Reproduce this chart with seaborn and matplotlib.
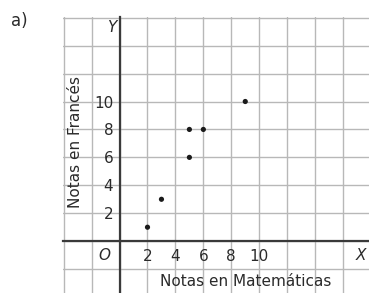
import numpy as np
import seaborn as sns
import matplotlib.pyplot as plt

# Notas de los alumnos
mates = [2, 3, 5, 5, 6, 9]
frances = [1, 3, 6, 8, 8, 10]
xticks = [2, 4, 6, 8, 10]
yticks = [2, 4, 6, 8, 10]

sns.set_style("white")
plt.rcParams['font.family'] = ['DejaVu Sans']

fig = plt.figure(figsize=(3.69, 2.93), dpi=100)
ax = fig.add_axes([63 / 369, 0, 1 - 63 / 369, 1 - 17 / 293])

txt = '#2a2a2a'
axc = '#3a3a3a'
gridc = '#b8b8b8'

ax.set_xlim(-4.05, 17.86)
ax.set_ylim(-3.71, 16.05)

# cuadricula (cada 2 unidades)
for gx in np.arange(-4, 18, 2):
    ax.axvline(gx, color=gridc, linewidth=1.0, zorder=0)
for gy in np.arange(-4, 17, 2):
    ax.axhline(gy, color=gridc, linewidth=1.0, zorder=0)

sns.scatterplot(x=mates, y=frances, ax=ax, color='#1a1a1a', s=14,
                edgecolor='none', zorder=5)

# ejes por el origen
for side in ['top', 'right']:
    ax.spines[side].set_visible(False)
ax.spines['left'].set_position(('data', 0))
ax.spines['bottom'].set_position(('data', 0))
for side in ['left', 'bottom']:
    ax.spines[side].set_color(axc)
    ax.spines[side].set_linewidth(1.6)
    ax.spines[side].set_zorder(3)

ax.set_xticks(xticks)
ax.set_yticks(yticks)
ax.set_xticklabels([str(t) for t in xticks])
ax.set_yticklabels([str(t) for t in yticks])
ax.tick_params(which='major', direction='inout', length=9, width=1.2,
               color=axc, labelcolor=txt, labelsize=11)
ax.tick_params(axis='x', pad=1)
ax.tick_params(axis='y', pad=0)

ax.set_xlabel('')
ax.set_ylabel('')

ax.text(-1.07, -1.0, 'O', style='italic', fontsize=11, color=txt,
        ha='center', va='center')
ax.text(-0.55, 15.3, 'Y', style='italic', fontsize=11, color=txt,
        ha='center', va='center')
ax.text(17.3, -1.0, 'X', style='italic', fontsize=11, color=txt,
        ha='center', va='center')
ax.text(9.0, -2.86, 'Notas en Matemáticas', fontsize=11, color=txt,
        ha='center', va='center')
ax.text(-3.14, 7.07, 'Notas en Francés', fontsize=11, color=txt,
        ha='center', va='center', rotation=90)

fig.text(19 / 369, 1 - 21 / 293, 'a)', fontsize=12, color=txt,
         ha='center', va='center')

fig.savefig('out.png', dpi=100)
